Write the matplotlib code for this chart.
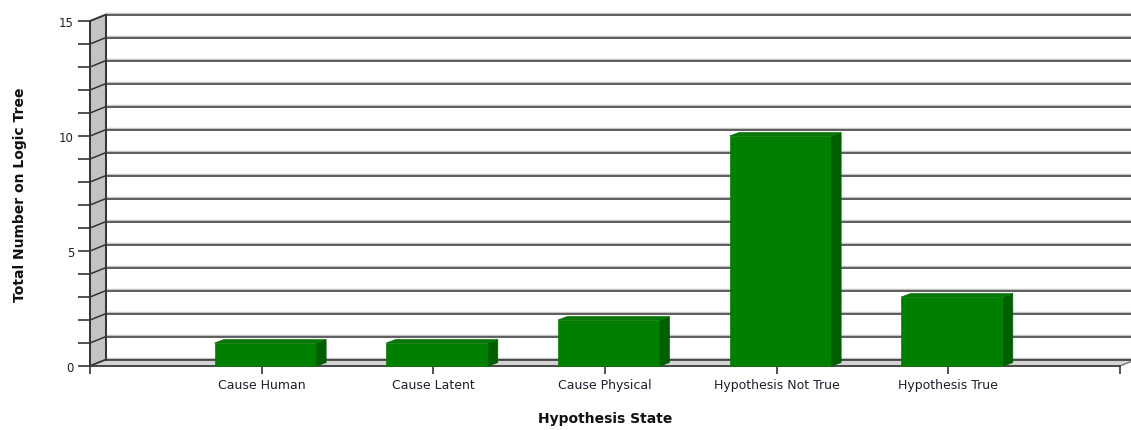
import matplotlib
matplotlib.use("Agg")
import matplotlib.pyplot as plt
from matplotlib.patches import Polygon, Rectangle

# data
categories = ["Cause Human", "Cause Latent", "Cause Physical",
              "Hypothesis Not True", "Hypothesis True"]
counts = [1, 1, 2, 10, 3]
y_max = 15
y_labels = {0: "0", 5: "5", 10: "10", 15: "15"}

# pseudo 3D depth (data units)
wall_dx, wall_dy = 0.093, 0.28
bar_dx, bar_dy = 0.055, 0.15
bar_w = 0.595
bar_shift = 0.023
n_slots = len(categories) + 1

fig = plt.figure(figsize=(11.31, 4.31), dpi=100)
ax = fig.add_axes([90 / 1131, 64 / 431, 1030 / 1131, 345 / 431])
ax.set_xlim(0, n_slots)
ax.set_ylim(0, y_max)
for s in ax.spines.values():
    s.set_visible(False)

# left wall
wall = Polygon([(0, 0), (0, y_max), (wall_dx, y_max + wall_dy), (wall_dx, wall_dy)],
               closed=True, facecolor="#c3c3c3", edgecolor="#333333", lw=1.2,
               clip_on=False, zorder=1)
ax.add_patch(wall)

# floor
floor = Polygon([(0, 0), (n_slots, 0), (n_slots + wall_dx, wall_dy), (wall_dx, wall_dy)],
                closed=True, facecolor="#d4d4d4", edgecolor="#7a7a7a", lw=1.0,
                clip_on=False, zorder=1)
ax.add_patch(floor)

# gridlines on back wall and left wall
for v in range(y_max + 1):
    ax.plot([wall_dx, n_slots + 0.2], [v + wall_dy + 0.06] * 2, color="#c4c4c4",
            lw=1.0, clip_on=False, zorder=2)
    ax.plot([wall_dx, n_slots + 0.2], [v + wall_dy] * 2, color="#333333",
            lw=1.1, clip_on=False, zorder=2)
    ax.plot([0, wall_dx], [v, v + wall_dy], color="#333333", lw=1.1,
            clip_on=False, zorder=2)
ax.plot([0, 0], [0, y_max], color="#333333", lw=1.3, clip_on=False, zorder=2)
ax.plot([wall_dx, wall_dx], [wall_dy, y_max + wall_dy], color="#333333", lw=1.3,
        clip_on=False, zorder=2)
ax.plot([0, n_slots], [0, 0], color="#3a3a3a", lw=1.2, clip_on=False, zorder=2)

# bars
for i, v in enumerate(counts):
    c = i + 1 + bar_shift
    l, r = c - bar_w / 2, c + bar_w / 2
    ax.add_patch(Rectangle((l, 0), bar_w, v, facecolor="#007f00", edgecolor="#007f00",
                           lw=0.5, zorder=10, clip_on=False))
    ax.add_patch(Polygon([(r, 0), (r + bar_dx, bar_dy), (r + bar_dx, v + bar_dy), (r, v)],
                         closed=True, facecolor="#005f00", edgecolor="#005f00", lw=0.5,
                         zorder=10, clip_on=False))
    ax.add_patch(Polygon([(l, v), (r, v), (r + bar_dx, v + bar_dy), (l + bar_dx, v + bar_dy)],
                         closed=True, facecolor="#0a760a", edgecolor="#0a760a", lw=0.5,
                         zorder=10, clip_on=False))

# axes ticks and labels
ax.set_yticks(range(y_max + 1))
ax.set_yticklabels([y_labels.get(v, "") for v in range(y_max + 1)])
ax.tick_params(axis="y", length=8.5, width=1.2, color="#333333", pad=3,
               labelsize=8.5, labelcolor="#1e1e2e")
ax.set_xticks(range(n_slots + 1))
ax.set_xticklabels([""] + categories + [""])
ax.tick_params(axis="x", length=5.5, width=1.2, color="#333333", pad=3,
               labelsize=9, labelcolor="#1e1e2e")

ax.set_xlabel("Hypothesis State", fontsize=10, fontweight="bold", color="#111111")
ax.set_ylabel("Total Number on Logic Tree", fontsize=10, fontweight="bold",
              color="#111111")
ax.yaxis.set_label_coords(-63 / 1030, 0.5)
ax.xaxis.set_label_coords(0.5, -45 / 345)

fig.savefig("out.png", dpi=100)
